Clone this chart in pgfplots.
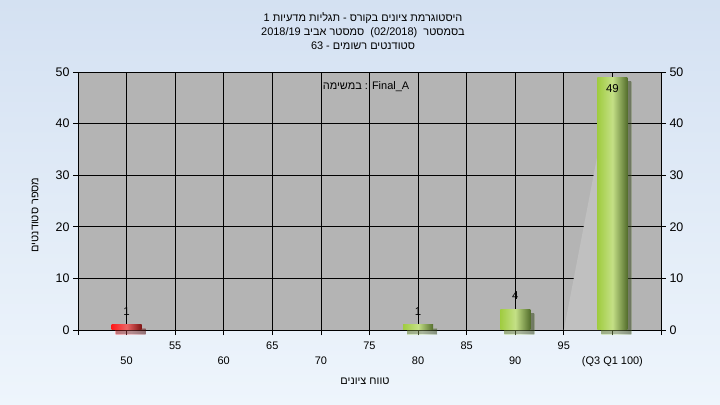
\documentclass[border=0pt]{standalone}
\usepackage{fontspec}
\setmainfont{Liberation Sans}
\newfontfamily\heb[Script=Hebrew]{Liberation Sans}
\usepackage{pgfplots}
\pgfplotsset{compat=1.18}
\TeXXeTstate=1
\definecolor{bgtop}{RGB}{212,225,242}
\definecolor{bgbot}{RGB}{238,245,252}
\definecolor{plotbg}{RGB}{180,180,180}
\definecolor{wedgec}{RGB}{192,192,192}
\definecolor{gL}{RGB}{160,204,64}
\definecolor{gH}{RGB}{196,224,134}
\definecolor{gD}{RGB}{84,110,44}
\definecolor{rL}{RGB}{255,25,25}
\definecolor{rH}{RGB}{236,100,100}
\definecolor{rD}{RGB}{125,20,20}
\pgfplotsset{
  mybar/.style={ybar, bar width=30bp, bar shift=0pt, draw=none,
    preaction={fill=black, fill opacity=0.33, transform canvas={xshift=4bp, yshift=-4bp}},
    nodes near coords},
  greenbar/.style={mybar, left color=gL, right color=gD, middle color=gH},
  redbar/.style={mybar, left color=rL, right color=rD, middle color=rH},
  labelabove/.style={nodes near coords style={anchor=south, yshift=6bp, font=\fontsize{11.5}{12}\selectfont, black}},
  labelinside/.style={nodes near coords style={anchor=north, yshift=-4bp, font=\fontsize{11.5}{12}\selectfont, black}},
}
\begin{document}
\begin{tikzpicture}
\shade[top color=bgtop, bottom color=bgbot] (0,0) rectangle (720bp,405bp);
\begin{axis}[
  at={(78bp,75bp)}, anchor=south west, scale only axis,
  width=583bp, height=258bp,
  xmin=45, xmax=105, ymin=0, ymax=50,
  axis background/.style={fill=plotbg},
  clip=false,
  xtick={45,50,...,105},
  xticklabels={,,55,,65,,75,,85,,95,,},
  extra x ticks={50,60,70,80,90,100},
  extra x tick labels={50,60,70,80,90,(Q3 Q1 100)},
  extra x tick style={tick label style={yshift=-15bp}},
  ytick={0,10,...,50},
  xtick pos=bottom, ytick pos=left,
  tick align=outside,
  major tick length=5bp,
  tick style={black, line width=0.8bp},
  grid=major,
  major grid style={black, line width=0.8bp},
  axis line style={black, line width=0.8bp},
  /pgf/number format/assume math mode=true,
  xticklabel style={font=\fontsize{11}{12}\selectfont, yshift=-3bp},
  yticklabel style={font=\fontsize{12.5}{13}\selectfont},
]
\addplot[fill=wedgec, draw=none] coordinates {(95,0) (100,49) (100,0)} -- cycle;
\addplot[redbar, labelabove] coordinates {(50,1)};
\addplot[greenbar, labelabove] coordinates {(80,1)};
\addplot[greenbar, labelabove] coordinates {(90,4)};
\addplot[greenbar, labelinside] coordinates {(100,49)};
\node[anchor=north, font=\fontsize{11}{12}\selectfont] at (rel axis cs:0.494,0.975) {{\heb במשימה} : Final\_A};
\end{axis}
\begin{axis}[
  at={(78bp,75bp)}, anchor=south west, scale only axis,
  width=583bp, height=258bp,
  xmin=45, xmax=105, ymin=0, ymax=50,
  hide x axis,
  axis y line*=right,
  ytick={0,10,...,50},
  tick align=outside,
  major tick length=5bp,
  tick style={black, line width=0.8bp},
  axis line style={black, line width=0.8bp, -},
  /pgf/number format/assume math mode=true,
  yticklabel style={font=\fontsize{12.5}{13}\selectfont},
]
\addplot[draw=none] coordinates {(45,0)};
\end{axis}
\node[align=center, font=\fontsize{11}{14}\selectfont] at (363bp,374bp)
  {1 {\heb\beginR היסטוגרמת ציונים בקורס - תגליות מדעיות\endR}\\
   2018/19 {\heb\beginR סמסטר אביב\endR}\ \ (02/2018)\ \ {\heb\beginR בסמסטר\endR}\\
   63 - {\heb\beginR סטודנטים רשומים\endR}};
\node[font=\fontsize{11}{12}\selectfont] at (365bp,24bp) {\heb\beginR טווח ציונים\endR};
\node[font=\fontsize{11}{12}\selectfont, rotate=90] at (35bp,190bp) {\heb\beginR מספר סטודנטים\endR};
\end{tikzpicture}
\end{document}
